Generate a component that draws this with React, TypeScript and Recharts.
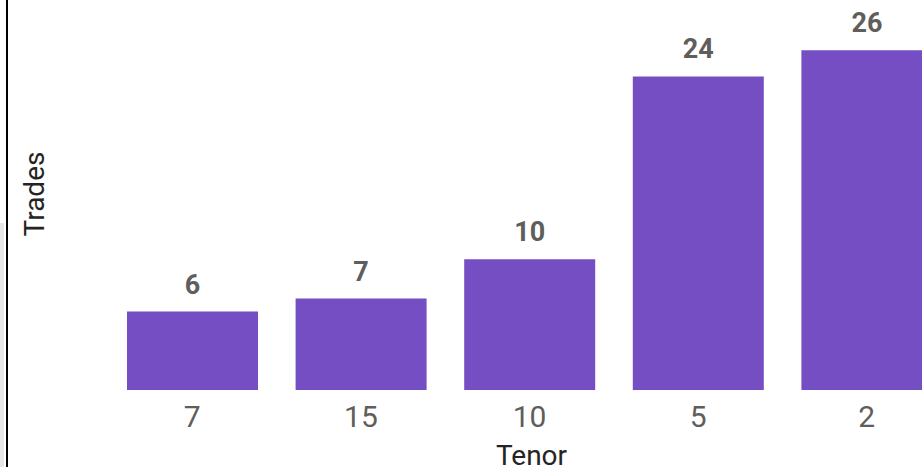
import React from 'react';
import { BarChart, Bar, XAxis, YAxis, LabelList } from 'recharts';

const tenors = ['7', '15', '10', '5', '2'];
const trades = [6, 7, 10, 24, 26];
const yDomain = [0, 30];

const data = tenors.map((t, i) => ({ tenor: t, trades: trades[i] }));

const FONT = 'Roboto, "Noto Sans", sans-serif';

const Tick = (props: any) => {
  const { x, y, payload } = props;
  return (
    <text x={x} y={y} dy={37} textAnchor="middle" fill="#605E5C" fontSize={30} fontFamily={FONT}>
      {payload.value}
    </text>
  );
};

const BarLabel = (props: any) => {
  const { x, y, width, value } = props;
  return (
    <text x={x + width / 2} y={y - 18} textAnchor="middle" fill="#605E5C" fontSize={27} fontWeight={700} fontFamily={FONT}>
      {value}
    </text>
  );
};

const XTitle = (props: any) => {
  const vb = props.viewBox || {};
  return (
    <text x={vb.x + vb.width / 2 + 2} y={vb.y + 75} textAnchor="middle" fill="#252423" fontSize={28} fontFamily={FONT}>
      Tenor
    </text>
  );
};

const YTitle = (props: any) => {
  const vb = props.viewBox || {};
  const cx = 44;
  const cy = vb.y + vb.height / 2;
  return (
    <text x={cx} y={cy} transform={`rotate(-90, ${cx}, ${cy})`} textAnchor="middle" fill="#252423" fontSize={28} fontFamily={FONT}>
      Trades
    </text>
  );
};

export default function App() {
  return (
    <div style={{ position: 'fixed', left: 0, top: 0, width: 922, height: 467, overflow: 'hidden', background: '#fff' }}>
      <div style={{ position: 'absolute', left: 0, top: 223, width: 4, height: 244, background: '#e6e6e6' }} />
      <div style={{ position: 'absolute', left: 6, top: 0, width: 2, height: 467, background: '#000' }} />
      <div style={{ position: 'absolute', left: 0, top: -2 }}>
        <BarChart width={951} height={469} data={data} margin={{ top: 0, right: 0, left: 0, bottom: 0 }}>
          <YAxis
            width={108}
            domain={yDomain}
            tick={false}
            axisLine={false}
            tickLine={false}
            label={<YTitle />}
          />
          <XAxis
            dataKey="tenor"
            height={77}
            axisLine={false}
            tickLine={false}
            tickSize={0}
            tickMargin={0}
            interval={0}
            tick={<Tick />}
            label={<XTitle />}
          />
          <Bar dataKey="trades" fill="#744EC2" barSize={131} isAnimationActive={false}>
            <LabelList dataKey="trades" content={<BarLabel />} />
          </Bar>
        </BarChart>
      </div>
    </div>
  );
}
